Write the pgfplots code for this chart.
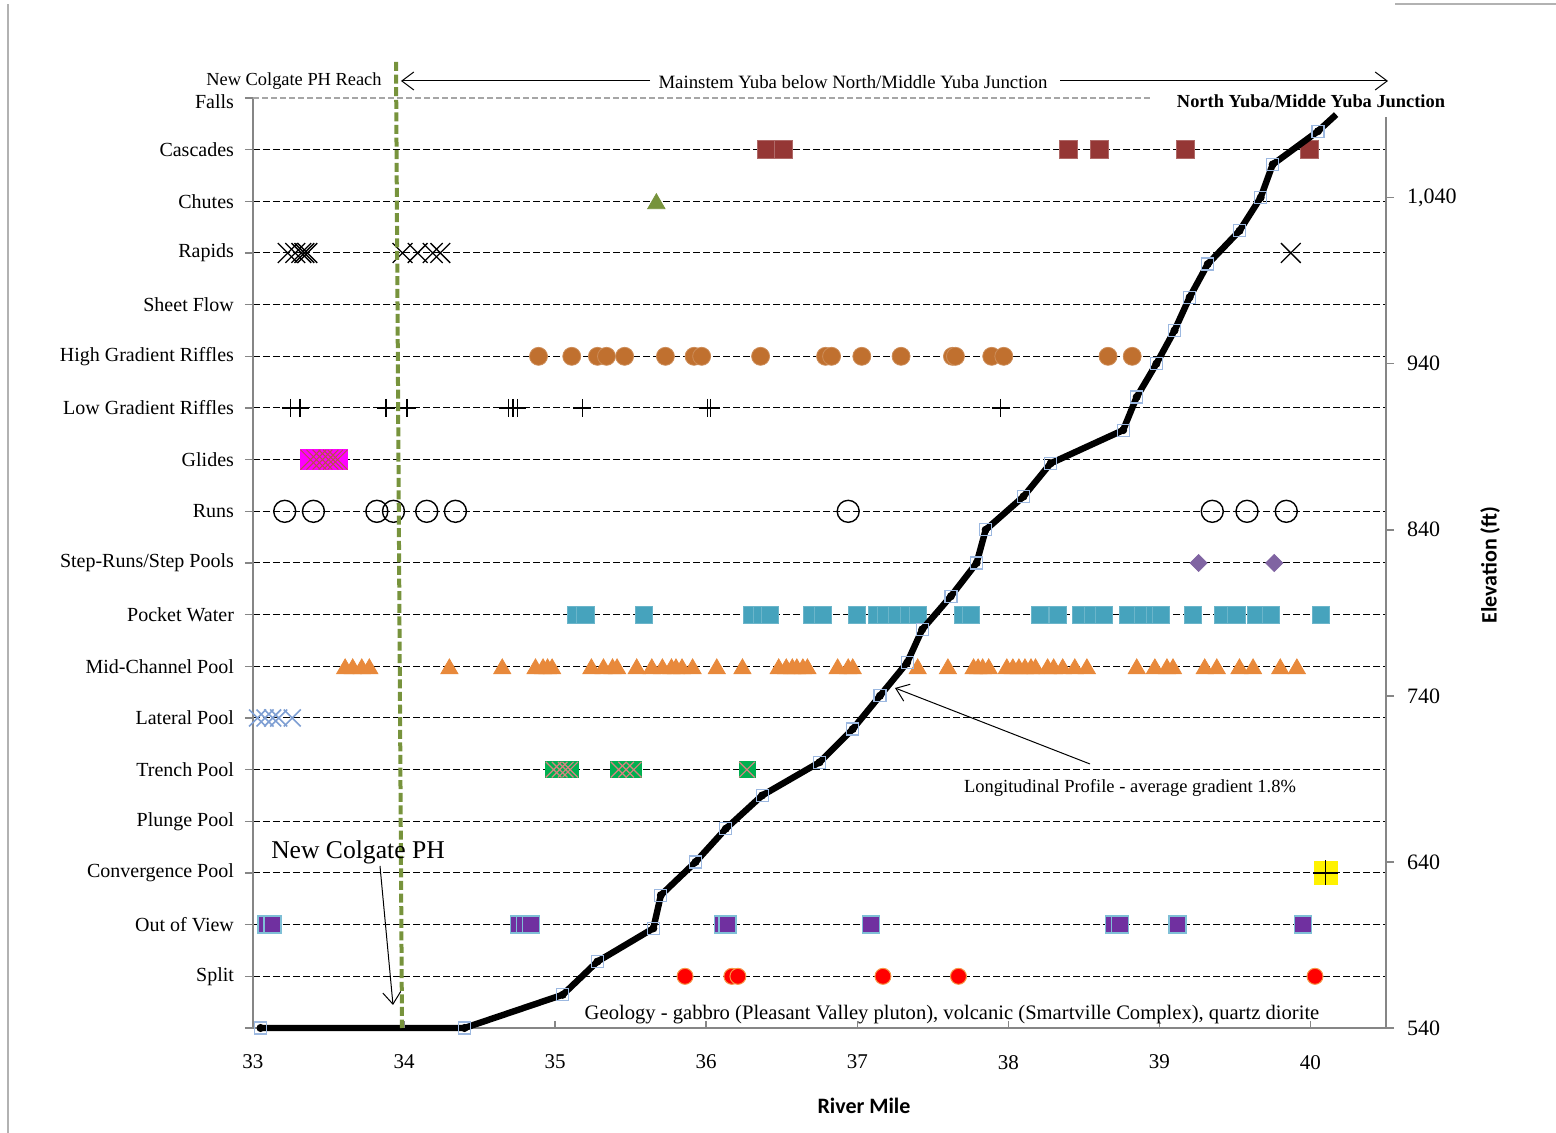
\documentclass[border=0pt]{standalone}
\usepackage{pgfplots}
\pgfplotsset{compat=1.18}
\usepackage{pgfplotstable}
\usepackage{fontspec}
\setmainfont{Liberation Serif}
\newfontfamily\calibri{Carlito}
\usetikzlibrary{arrows.meta}

\definecolor{casc}{HTML}{953735}
\definecolor{chute}{HTML}{77933C}
\definecolor{hgr}{HTML}{C0702F}
\definecolor{glide}{HTML}{FF00FF}
\definecolor{glidex}{HTML}{B9504B}
\definecolor{stepc}{HTML}{8064A2}
\definecolor{pocket}{HTML}{46A3BD}
\definecolor{midc}{HTML}{E8893B}
\definecolor{lateral}{HTML}{7F9FD3}
\definecolor{trench}{HTML}{00B050}
\definecolor{trenchx}{HTML}{D98282}
\definecolor{oov}{HTML}{7030A0}
\definecolor{oovb}{HTML}{7FBFD6}
\definecolor{splitc}{HTML}{FF0000}
\definecolor{splitb}{HTML}{F79646}
\definecolor{axgray}{HTML}{868686}
\definecolor{profsq}{HTML}{9CB8E0}
\definecolor{vline}{HTML}{77933C}

\pgfplotstableread{
x y
33.05 540
34.40 540
35.05 560
35.28 580
35.65 600
35.70 620
35.93 640
36.13 660
36.37 680
36.75 700
36.97 720
37.15 740
37.33 760
37.43 780
37.62 800
37.79 820
37.85 840
38.10 860
38.28 880
38.76 900
38.85 920
38.98 940
39.10 960
39.20 980
39.32 1000
39.53 1020
39.67 1040
39.75 1060
40.05 1080
}\profile

\tikzset{ann/.style={-{Straight Barb[length=6pt,width=9pt]}, line width=0.5pt, black}}

\begin{document}
\begin{tikzpicture}
\begin{axis}[
  name=cat,
  scale only axis, width=566.5pt, height=465pt,
  xmin=33, xmax=40.5, ymin=0, ymax=18,
  axis x line*=bottom, axis y line*=left,
  axis line style={axgray, line width=0.75pt, -},
  xtick={33,...,40},
  xtick style={draw=none},
  xticklabel style={font=\fontsize{10.5}{12}\selectfont, /pgf/number format/assume math mode=true, yshift=-6pt},
  ytick={1,...,17},
  yticklabels={Split, Out of View, Convergence Pool, Plunge Pool, Trench Pool, Lateral Pool, Mid-Channel Pool, Pocket Water, Step-Runs/Step Pools, Runs, Glides, Low Gradient Riffles, High Gradient Riffles, Sheet Flow, Rapids, Chutes, Cascades},
  extra y ticks={0,18},
  extra y tick labels={,Falls},
  extra y tick style={grid=none, yticklabel style={yshift=-2pt}},
  ymajorgrids,
  major grid style={black, line width=0.5pt, dash pattern=on 3.5pt off 1.5pt},
  tick align=outside, major tick length=4pt,
  ytick style={axgray, line width=0.75pt},
  yticklabel style={font=\fontsize{10}{12}\selectfont, xshift=-2pt},
  clip=false,
]
% Cascades
\addplot[only marks, mark=square*, mark size=4.5pt, mark options={fill=casc, draw=casc!75!white, line width=0.4pt}] coordinates {(36.40,17) (36.51,17) (38.40,17) (38.60,17) (39.17,17) (39.99,17)};
% Chutes
\addplot[only marks, mark=triangle*, mark size=5pt, mark options={fill=chute, draw=chute, yshift=-1.2pt}] coordinates {(35.67,16)};
% Rapids
\addplot[only marks, mark=x, mark size=7pt, mark options={black, line width=0.65pt}] coordinates {(33.23,15) (33.28,15) (33.32,15) (33.34,15) (33.36,15) (33.99,15) (34.09,15) (34.19,15) (34.24,15) (39.87,15)};
% High Gradient Riffles
\addplot[only marks, mark=*, mark size=4.5pt, mark options={fill=hgr, draw=hgr!80!white, line width=0.4pt}] coordinates {(34.89,13) (35.11,13) (35.28,13) (35.34,13) (35.46,13) (35.73,13) (35.92,13) (35.97,13) (36.36,13) (36.79,13) (36.83,13) (37.03,13) (37.29,13) (37.63,13) (37.65,13) (37.89,13) (37.97,13) (38.66,13) (38.82,13)};
% Low Gradient Riffles
\addplot[only marks, mark=+, mark size=4.5pt, mark options={black, line width=0.7pt}] coordinates {(33.25,12) (33.31,12) (33.88,12) (34.02,12) (34.69,12) (34.72,12) (34.75,12) (35.18,12) (36.01,12) (36.03,12) (37.95,12)};
% Glides
\addplot[only marks, mark=square*, mark size=5pt, mark options={fill=glide, draw=glide}] coordinates {(33.38,11) (33.42,11) (33.46,11) (33.50,11) (33.53,11) (33.56,11)};
\addplot[only marks, mark=x, mark size=7pt, mark options={glidex, line width=0.5pt}] coordinates {(33.38,11) (33.42,11) (33.46,11) (33.50,11) (33.53,11) (33.56,11)};
% Runs
\addplot[only marks, mark=o, mark size=5.5pt, mark options={black, line width=0.7pt}] coordinates {(33.21,10) (33.40,10) (33.82,10) (33.93,10) (34.15,10) (34.34,10) (36.94,10) (39.35,10) (39.58,10) (39.84,10)};
% Step-Runs/Step Pools
\addplot[only marks, mark=square*, mark size=3pt, mark options={fill=stepc, draw=stepc, rotate=45}] coordinates {(39.26,9) (39.76,9)};
% Pocket Water
\addplot[only marks, mark=square*, mark size=4.3pt, mark options={fill=pocket, draw=pocket!80!white, line width=0.4pt}] coordinates {(35.14,8) (35.20,8) (35.59,8) (36.30,8) (36.37,8) (36.42,8) (36.70,8) (36.77,8) (37.00,8) (37.13,8) (37.19,8) (37.26,8) (37.34,8) (37.40,8) (37.70,8) (37.75,8) (38.21,8) (38.33,8) (38.48,8) (38.56,8) (38.63,8) (38.79,8) (38.89,8) (38.97,8) (39.01,8) (39.22,8) (39.42,8) (39.51,8) (39.64,8) (39.74,8) (40.07,8)};
% Mid-Channel Pool
\addplot[only marks, mark=triangle*, mark size=4.9pt, mark options={fill=midc, draw=midc, yshift=-1.2pt}] coordinates {(33.61,7) (33.66,7) (33.72,7) (33.77,7) (34.30,7) (34.65,7) (34.87,7) (34.92,7) (34.95,7) (34.98,7) (35.24,7) (35.32,7) (35.38,7) (35.41,7) (35.54,7) (35.64,7) (35.71,7) (35.77,7) (35.80,7) (35.84,7) (35.91,7) (36.07,7) (36.24,7) (36.48,7) (36.53,7) (36.57,7) (36.60,7) (36.64,7) (36.67,7) (36.87,7) (36.94,7) (36.97,7) (37.40,7) (37.60,7) (37.77,7) (37.80,7) (37.83,7) (37.87,7) (37.99,7) (38.03,7) (38.07,7) (38.11,7) (38.15,7) (38.18,7) (38.26,7) (38.30,7) (38.36,7) (38.44,7) (38.52,7) (38.85,7) (38.97,7) (39.05,7) (39.09,7) (39.30,7) (39.38,7) (39.53,7) (39.62,7) (39.80,7) (39.91,7)};
% Lateral Pool
\addplot[only marks, mark=x, mark size=6pt, mark options={lateral, line width=0.8pt}] coordinates {(33.03,6) (33.08,6) (33.13,6) (33.17,6) (33.26,6)};
% Trench Pool
\addplot[only marks, mark=square*, mark size=4pt, mark options={fill=trench, draw=trench}] coordinates {(34.99,5) (35.03,5) (35.07,5) (35.10,5) (35.42,5) (35.47,5) (35.52,5) (36.27,5)};
\addplot[only marks, mark=x, mark size=5.5pt, mark options={trenchx, line width=0.6pt}] coordinates {(34.99,5) (35.03,5) (35.07,5) (35.10,5) (35.42,5) (35.47,5) (35.52,5) (36.27,5)};
% Convergence Pool
\addplot[only marks, mark=square*, mark size=5.75pt, mark options={fill=yellow, draw=yellow}] coordinates {(40.10,3)};
\addplot[only marks, mark=+, mark size=6.25pt, mark options={black, line width=0.8pt}] coordinates {(40.10,3)};
% Out of View
\addplot[only marks, mark=square*, mark size=4.25pt, mark options={fill=oov, draw=oovb, line width=0.7pt}] coordinates {(33.09,2) (33.13,2) (34.76,2) (34.80,2) (34.84,2) (36.11,2) (36.14,2) (37.09,2) (38.70,2) (38.74,2) (39.12,2) (39.95,2)};
% Split
\addplot[only marks, mark=*, mark size=4pt, mark options={fill=splitc, draw=splitb, line width=0.5pt}] coordinates {(35.86,1) (36.17,1) (36.21,1) (37.17,1) (37.67,1) (40.03,1)};
\end{axis}

\begin{axis}[
  scale only axis, width=566.5pt, height=465pt,
  xmin=33, xmax=40.5, ymin=540, ymax=1100,
  axis x line=none,
  axis y line*=right,
  y axis line style={draw=none},
  ytick={540,640,740,840,940,1040},
  tick align=outside, major tick length=4pt,
  ytick style={axgray, line width=0.75pt},
  yticklabel style={font=\fontsize{11}{13}\selectfont, /pgf/number format/assume math mode=true, xshift=3pt},
  clip=false,
]
\addplot[only marks, mark=square, mark size=3pt, mark options={profsq, line width=0.6pt}] table[x=x,y=y]{\profile};
\addplot[black, line width=3.2pt, line join=round] table[x=x,y=y]{\profile};
\addplot[black, line width=3.2pt] coordinates {(40.05,1080) (40.17,1090)};
\addplot[only marks, mark=*, mark size=1.8pt, black] table[x=x,y=y]{\profile};
\end{axis}

% right axis line and bottom ticks
\draw[axgray, line width=0.75pt] (566.5pt,0pt) -- (566.5pt,455.5pt);
\foreach \i in {0,...,7} \draw[axgray, line width=0.75pt] ({\i*75.533pt},0pt) -- ({\i*75.533pt},3.5pt);

% Falls top gray dashed line
\draw[gray!70, line width=0.75pt, dash pattern=on 3pt off 1.5pt] (0pt,465pt) -- (448.5pt,465pt);

% green dashed vertical line
\draw[vline, line width=2pt, dash pattern=on 4.5pt off 1.8pt] (71.5pt,483pt) -- (74.5pt,0pt);

% annotations
\node[anchor=east, font=\fontsize{9.2}{11}\selectfont, inner sep=0pt] at (64.5pt,473.5pt) {New Colgate PH Reach};
\draw[ann] (198.5pt,473.5pt) -- (74pt,473.5pt);
\node[font=\fontsize{9.4}{11}\selectfont, inner sep=0pt] at (300pt,473pt) {Mainstem Yuba below North/Middle Yuba Junction};
\draw[ann] (403.5pt,473.5pt) -- (567.5pt,473.5pt);
\node[font=\bfseries\fontsize{9.2}{11}\selectfont, inner sep=0pt] at (529pt,463.5pt) {North Yuba/Midde Yuba Junction};
\node[font=\fontsize{12.8}{15}\selectfont, inner sep=0pt] at (52.5pt,88pt) {New Colgate PH};
\draw[ann] (63.5pt,81pt) -- (70pt,11.5pt);
\node[font=\fontsize{9.25}{10}\selectfont, inner sep=0pt] at (438.5pt,120pt) {Longitudinal Profile - average gradient 1.8\%};
\draw[ann] (418.5pt,132pt) -- (321pt,170pt);
\node[font=\fontsize{10.3}{12}\selectfont, inner sep=0pt] at (349.5pt,6.5pt) {Geology - gabbro (Pleasant Valley pluton), volcanic (Smartville Complex), quartz diorite};
\node[rotate=90, font=\calibri\bfseries\fontsize{11}{13}\selectfont, inner sep=0pt] at (618.5pt,231.5pt) {Elevation (ft)};
\node[font=\calibri\bfseries\fontsize{11}{13}\selectfont, inner sep=0pt] at (305.5pt,-39pt) {River Mile};

% chart frame
\draw[gray!60, line width=0.75pt] (-122.5pt,-52.5pt) -- (-122.5pt,512pt);
\draw[gray!60, line width=0.75pt] (571pt,512pt) -- (651.5pt,512pt);

\pgfresetboundingbox
\path[use as bounding box] (-126.5pt,-52.5pt) rectangle (651.5pt,514pt);
\end{tikzpicture}
\end{document}
